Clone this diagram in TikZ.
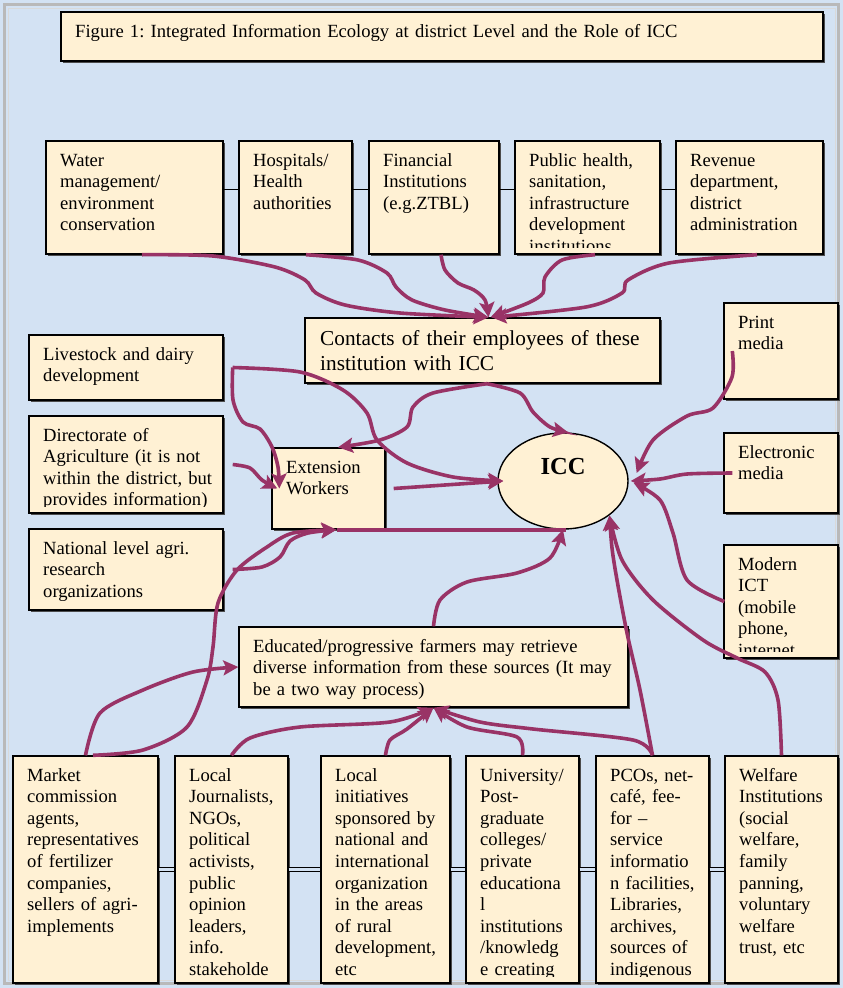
\documentclass[tikz,border=0pt]{standalone}
\usepackage{fontspec}
\setmainfont{Liberation Serif}
\usetikzlibrary{arrows.meta,shapes.geometric,fit,shadows}
\definecolor{bgc}{RGB}{211,226,243}
\definecolor{cream}{RGB}{255,241,212}
\definecolor{arc}{RGB}{153,51,102}
\frenchspacing
\tikzset{
  box/.style={draw=black, line width=1.4pt, fill=cream, inner sep=0pt, rectangle,
    general shadow={fill=black!70, shadow xshift=1.5pt, shadow yshift=-1.5pt}},
  txt/.style={inner sep=0pt, anchor=base west, align=left, text width=700pt,
    font=\fontsize{18.6}{21.6}\selectfont},
  arr/.style={draw=arc, line width=3.6pt, -{Stealth[length=15pt,width=15pt,inset=3pt]}},
  ln/.style={draw=arc, line width=3.6pt},
  conn/.style={draw=black, line width=1.5pt},
  dbl/.style={draw=black, line width=1.3pt, double=bgc, double distance=2.6pt},
}
\newcommand\mybox[6]{%
  \node[box, fit={(#2,#3) (#4,#5)}] (#1) {};
  \begin{scope}
    \clip ({#2+2},{#3+2}) rectangle ({#4-2},{#5-7});
    \node[txt] (#1-t) at ({#2+14},{#3+25}) {#6};
  \end{scope}}
\begin{document}
\begin{tikzpicture}[x=1pt,y=-1pt]
\useasboundingbox (0,0) rectangle (843,988);
\fill[bgc] (0,0) rectangle (843,988);
\draw[gray!55, line width=3pt] (4.5,4.5) rectangle (838.5,983.5);
\draw[gray!30, line width=1pt] (8,8) rectangle (835,980);

% boxes
\mybox{title}{61}{12}{823}{61}{Figure 1: Integrated Information Ecology at district Level and the Role of ICC}
\mybox{water}{46}{141}{223}{254}{Water\\management/\\environment\\conservation}
\mybox{hosp}{239}{141}{352}{254}{Hospitals/\\Health\\authorities}
\mybox{fin}{369}{141}{499}{254}{Financial\\Institutions\\(e.g.ZTBL)}
\mybox{pub}{515}{141}{660}{254}{Public health,\\sanitation,\\infrastructure\\development\\institutions}
\mybox{rev}{676}{141}{823}{254}{Revenue\\department,\\district\\administration}
\draw[conn] ([yshift=8pt]water.east) -- ([yshift=8pt]hosp.west);
\draw[conn] ([yshift=8pt]hosp.east) -- ([yshift=8pt]fin.west);
\draw[conn] ([yshift=8pt]fin.east) -- ([yshift=8pt]pub.west);
\draw[conn] ([yshift=8pt]pub.east) -- ([yshift=8pt]rev.west);

\node[box, fit={(305,318) (660,383)}] (contacts) {};
\node[inner sep=0pt, anchor=base west, align=left, text width=400pt,
  font=\fontsize{21.3}{24.5}\selectfont] (contacts-t) at (320,345.5)
  {Contacts of their employees of these\\institution with ICC};

\mybox{print}{724}{303}{838}{399}{Print\\media}
\mybox{elec}{724}{433}{838}{513}{Electronic\\media}
\mybox{ict}{724}{545}{838}{658}{Modern\\ICT\\(mobile\\phone,\\internet}
\mybox{live}{29}{335}{223}{400}{Livestock and dairy\\development}
\mybox{dir}{29}{416}{223}{513}{Directorate of\\Agriculture (it is not\\within the district, but\\provides information)}
\mybox{nat}{29}{529}{223}{610}{National level agri.\\research\\organizations}
\mybox{ext}{272}{448}{385}{529}{Extension\\Workers}
\mybox{edu}{239}{627}{628}{707}{Educated/progressive farmers may retrieve\\diverse information from these sources (It may\\be a two way process)}

\mybox{market}{13}{756}{158}{983}{Market\\commission\\agents,\\representatives\\of fertilizer\\companies,\\sellers of agri-\\implements}
\mybox{journ}{175}{756}{288}{983}{Local\\Journalists,\\NGOs,\\political\\activists,\\public\\opinion\\leaders,\\info.\\stakeholde}
\mybox{init}{321}{756}{450}{983}{Local\\initiatives\\sponsored by\\national and\\international\\organization\\in the areas\\of rural\\development,\\etc}
\mybox{univ}{466}{756}{579}{983}{University/\\Post-\\graduate\\colleges/\\private\\educationa\\l\\institutions\\/knowledg\\e creating}
\mybox{pco}{596}{756}{709}{983}{PCOs, net-\\café, fee-\\for –\\service\\informatio\\n facilities,\\Libraries,\\archives,\\sources of\\indigenous}
\mybox{welf}{725}{756}{838}{983}{Welfare\\Institutions\\(social\\welfare,\\family\\panning,\\voluntary\\welfare\\trust, etc}
\draw[dbl] (market.east) -- (journ.west);
\draw[dbl] (journ.east) -- (init.west);
\draw[dbl] (init.east) -- (univ.west);
\draw[dbl] (univ.east) -- (pco.west);
\draw[dbl] (pco.east) -- (welf.west);

\node[ellipse, draw=black, line width=1.4pt, fill=cream, minimum width=130pt,
  minimum height=96pt, inner sep=0pt] (icc) at (563,481) {};
\node[inner sep=0pt, font=\fontsize{24.5}{28}\selectfont\bfseries] (icc-t) at (563,467) {ICC};

% arrows: top institutions -> contacts
\draw[arr] plot[smooth] coordinates {([xshift=7.5pt]water.south) (213,256) (275,267) (305,280) (316,293) (345,305) (400,313) ([xshift=6pt]contacts.north)};
\draw[arr] plot[smooth] coordinates {([xshift=10.5pt]hosp.south) (358,260) (387,273) (396,287) (412,300) (445,310) ([xshift=6pt]contacts.north)};
\draw[arr] plot[smooth] coordinates {([xshift=7pt]fin.south) (445,270) (458,283) (474,290) (485,300) ([xshift=6pt]contacts.north)};
\draw[arr] plot[smooth] coordinates {([xshift=7.5pt]pub.south) (562,260) (545,277) (543,293) (528,303) ([xshift=8pt]contacts.north)};
\draw[arr] plot[smooth] coordinates {([xshift=7.5pt]rev.south) (669,263) (628,280) (622,293) (586,307) ([xshift=9pt]contacts.north)};

% contacts -> extension / ICC
\draw[arr] plot[smooth] coordinates {([xshift=4.5pt]contacts.south) (433,393) (413,407) (407,427) (380,440) ([xshift=9.5pt]ext.north)};
\draw[arr] plot[smooth] coordinates {([xshift=4.5pt]contacts.south) (520,393) (533,412) (550,427) ([xshift=5pt]icc.north)};

% left sources
\draw[arr] plot[smooth] coordinates {([xshift=9pt]live.east) (233,400) (243,422) (260,429) (272,447) (278,467) ([xshift=8pt]ext.west)};
\draw[arr] plot[smooth] coordinates {([xshift=9pt]live.east) (300,372) (343,390) (367,413) (377,440) (407,463) (453,477) ([xshift=6pt]icc.west)};
\draw[arr] plot[smooth] coordinates {([xshift=9pt]dir.east) (250,468) (262,480) ([xshift=6pt]ext.west)};
\draw[arr] ([xshift=8pt]ext.east) -- ([xshift=6pt]icc.west);
\draw[ln] ([xshift=8.5pt]ext.south) -- ([xshift=3pt]icc.south);
\draw[arr] plot[smooth] coordinates {([xshift=9pt]nat.east) (262,567) (280,557) (290,541) (308,533) ([xshift=8pt]ext.south)};
\draw[arr] plot[smooth] coordinates {([xshift=7.5pt]market.north) (143,750) (187,727) (207,680) (213,647) (218,603) (237,570) (267,547) (293,533) ([xshift=8pt]ext.south)};
\draw[arr] plot[smooth] coordinates {(market.north) (100,713) (143,690) (193,672) (edu.west)};

% educated -> ICC
\draw[arr] plot[smooth] coordinates {(edu.north) (440,600) (467,582) (517,573) (550,558) (icc.south)};

% bottom -> educated
\draw[arr] plot[smooth] coordinates {(journ.north) (250,738) (300,727) (390,722) (edu.south)};
\draw[arr] plot[smooth] coordinates {(init.north) (390,740) (407,729) (edu.south)};
\draw[arr] plot[smooth] coordinates {(univ.north) (517,737) (467,727) (edu.south)};
\draw[arr] plot[smooth] coordinates {(pco.north) (633,740) (533,729) (480,722) (edu.south)};

% bottom -> ICC
\draw[arr] plot[smooth] coordinates {(pco.north) (640,690) (627,633) (617,580) (612,548) (icc.south east)};
\draw[arr] plot[smooth] coordinates {(welf.north) (778,700) (765,672) (737,658) (703,640) (653,600) (622,560) (icc.south east)};

% right media -> ICC
\draw[arr] plot[smooth] coordinates {([xshift=9pt]print.west) (732,377) (713,408) (687,416) (653,440) ([xshift=8pt,yshift=8pt]icc.east)};
\draw[arr] plot[smooth] coordinates {([xshift=9pt]elec.west) (687,474) (660,479) ([xshift=2pt]icc.east)};
\draw[arr] plot[smooth] coordinates {([xshift=1pt]ict.west) (687,580) (673,533) (660,500) ([xshift=5pt,yshift=-2pt]icc.east)};
\end{tikzpicture}
\end{document}
